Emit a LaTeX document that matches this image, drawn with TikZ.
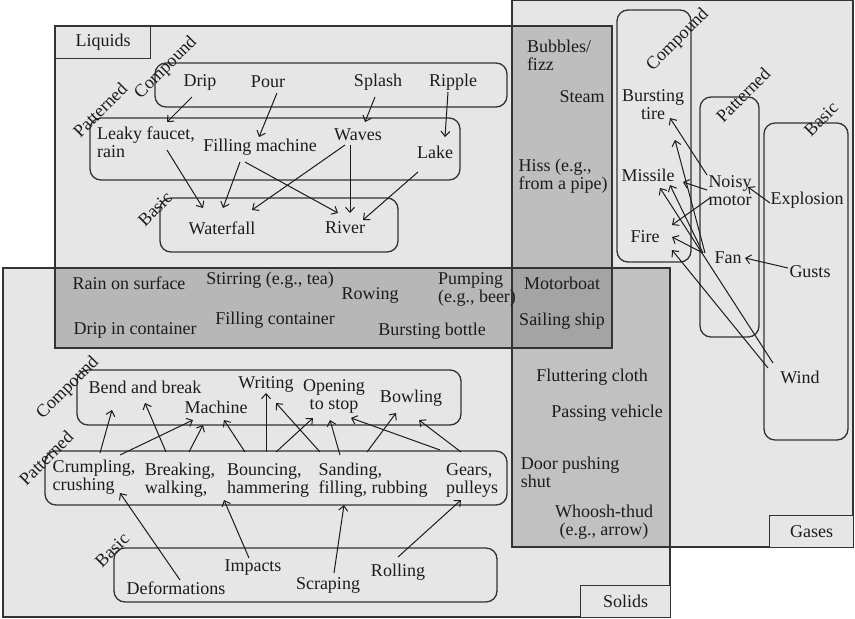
\documentclass[tikz,border=0pt]{standalone}
\usepackage{fontspec}
\setmainfont{Liberation Serif}
\usetikzlibrary{arrows.meta,calc}
\definecolor{lt}{HTML}{E6E6E6}
\definecolor{lg}{HTML}{BEBEBE}
\definecolor{ls}{HTML}{B7B7B7}
\definecolor{sg}{HTML}{C1C1C1}
\definecolor{lsg}{HTML}{A4A4A4}
\definecolor{ink}{HTML}{1C1C1C}
\definecolor{edge}{HTML}{333333}
\begin{document}
\begin{tikzpicture}[x=1pt,y=-1pt,
  txt/.style={inner sep=0pt, font=\fontsize{18}{18}\selectfont, text=ink},
  txtl/.style={txt, align=left},
  txtc/.style={txt, align=center},
  grp/.style={draw=edge, line width=1.3pt, rounded corners=11pt},
  rot/.style={txt, rotate=45},
  arr/.style={-{Straight Barb[length=5pt,width=9pt]}, line width=1pt, draw=ink},
  regionline/.style={draw=edge, line width=1.2pt},
  labbox/.style={txt, draw=edge, line width=1.2pt, fill=lt, anchor=north west}
]
\useasboundingbox (0,0) rectangle (855,619);
\fill[white] (0,0) rectangle (855,619);
% region fills
\fill[lt] (55,26) rectangle (612,348);
\fill[lt] (512,0) rectangle (853,547);
\fill[lt] (3,268) rectangle (670,617);
\fill[lg] (512,26) rectangle (612,348);
\fill[ls] (55,268) rectangle (612,348);
\fill[sg] (512,268) rectangle (670,547);
\fill[lsg] (512,268) rectangle (612,348);
% region borders
\draw[regionline] (55,26) rectangle (612,348);
\draw[regionline] (512,0) rectangle (853,547);
\draw[regionline] (3,268) rectangle (670,617);
% label boxes
\node[labbox, minimum width=95pt, minimum height=32pt] (liqlab) at (55,26) {Liquids};
\node[labbox, minimum width=84pt, minimum height=32pt] (gaslab) at (769,515) {Gases};
\node[labbox, minimum width=90pt, minimum height=32pt] (sollab) at (580,585) {Solids};

% ---------- Liquids ----------
\draw[grp] (155,63) rectangle (507,107);
\draw[grp] (90,118) rectangle (460,180);
\draw[grp] (160,198) rectangle (398,252);
\node[rot] (lcomp) at (166,68) {Compound};
\node[rot] (lpat) at (100,110) {Patterned};
\node[rot] (lbas) at (155,209) {Basic};

\node[txt] (drip) at (200,82) {Drip};
\node[txt] (pour) at (268,82) {Pour};
\node[txt] (splash) at (378,82) {Splash};
\node[txt] (ripple) at (453,82) {Ripple};
\node[txtl] (leaky) at (146,142) {Leaky faucet,\\rain};
\node[txt] (fillm) at (260,147) {Filling machine};
\node[txt] (waves) at (358,135) {Waves};
\node[txt] (lake) at (435,152) {Lake};
\node[txt] (waterfall) at (222,228) {Waterfall};
\node[txt] (river) at (345,228) {River};

\draw[arr] ([shift={(-8,15)}]drip.center) -- ([shift={(21,-20)}]leaky.center);
\draw[arr] ([shift={(9,11)}]pour.center) -- ([shift={(-1,-10)}]fillm.center);
\draw[arr] ([shift={(-3,15)}]splash.center) -- ([shift={(7,-13)}]waves.center);
\draw[arr] ([shift={(-5,10)}]ripple.center) -- ([shift={(10,-15)}]lake.center);
\draw[arr] ([shift={(21,8)}]leaky.center) -- ([shift={(-19,-20)}]waterfall.center);
\draw[arr] ([shift={(-20,15)}]fillm.center) -- ([shift={(1,-20)}]waterfall.center);
\draw[arr] ([shift={(-15,15)}]fillm.center) -- ([shift={(-7,-15)}]river.center);
\draw[arr] ([shift={(-13,10)}]waves.center) -- ([shift={(30,-18)}]waterfall.center);
\draw[arr] ([shift={(-8,10)}]waves.center) -- ([shift={(5,-15)}]river.center);
\draw[arr] ([shift={(-17,20)}]lake.center) -- ([shift={(18,-8)}]river.center);

% ---------- Overlaps ----------
\node[txtl] (bubbles) at (559,55) {Bubbles/\\fizz};
\node[txt] (steam) at (582,97) {Steam};
\node[txtl] (hiss) at (563,176) {Hiss (e.g.,\\from a pipe)};

\node[txt] (rain) at (129,283) {Rain on surface};
\node[txt] (stirring) at (270,280) {Stirring (e.g., tea)};
\node[txt] (rowing) at (370,295) {Rowing};
\node[txtl] (pumping) at (477,289) {Pumping\\(e.g., beer)};
\node[txt] (dripc) at (135,330) {Drip in container};
\node[txt] (fillc) at (275,320) {Filling container};
\node[txt] (bbottle) at (432,331) {Bursting bottle};

\node[txt] (motorboat) at (562,283) {Motorboat};
\node[txt] (sailing) at (562,321) {Sailing ship};

\node[txt] (flutter) at (592,377) {Fluttering cloth};
\node[txt] (passing) at (607,413) {Passing vehicle};
\node[txtl] (door) at (570,472) {Door pushing\\shut};
\node[txtc] (whoosh) at (604,522) {Whoosh-thud\\(e.g., arrow)};

% ---------- Gases ----------
\draw[grp] (617,10) rectangle (691,262);
\draw[grp] (700,97) rectangle (759,337);
\draw[grp] (764,123) rectangle (848,440);
\node[rot] (gcomp) at (678,40) {Compound};
\node[rot] (gpat) at (743,95) {Patterned};
\node[rot] (gbas) at (821,119) {Basic};

\node[txtc] (tire) at (653,105) {Bursting\\tire};
\node[txt] (missile) at (648,175) {Missile};
\node[txt] (fire) at (645,237) {Fire};
\node[txtl] (noisy) at (730,191) {Noisy\\motor};
\node[txt] (explosion) at (807,200) {Explosion};
\node[txt] (fan) at (728,258) {Fan};
\node[txt] (gusts) at (810,272) {Gusts};
\node[txt] (wind) at (800,377) {Wind};

\draw[arr] ([shift={(-23,-16)}]noisy.center) -- ([shift={(17,13)}]tire.center);
\draw[arr] ([shift={(-23,-1)}]noisy.center) -- ([shift={(35,7)}]missile.center);
\draw[arr] ([shift={(-20,7)}]noisy.center) -- ([shift={(27,-12)}]fire.center);
\draw[arr] ([shift={(-23,-5)}]fan.center) -- ([shift={(22,35)}]tire.center);
\draw[arr] ([shift={(-25,-5)}]fan.center) -- ([shift={(22,10)}]missile.center);
\draw[arr] ([shift={(-25,-5)}]fan.center) -- ([shift={(27,0)}]fire.center);
\draw[arr] ([shift={(-27,-14)}]wind.center) -- ([shift={(12,13)}]missile.center);
\draw[arr] ([shift={(-32,-9)}]wind.center) -- ([shift={(27,13)}]fire.center);
\draw[arr] ([shift={(-37,3)}]explosion.center) -- ([shift={(18,-4)}]noisy.center);
\draw[arr] ([shift={(-22,-4)}]gusts.center) -- ([shift={(17,0)}]fan.center);

% ---------- Solids ----------
\draw[grp] (77,370) rectangle (461,425);
\draw[grp] (45,451) rectangle (507,505);
\draw[grp] (114,548) rectangle (497,602);
\node[rot] (scomp) at (68,388) {Compound};
\node[rot] (spat) at (46,458) {Patterned};
\node[rot] (sbas) at (112,550) {Basic};

\node[txt] (bend) at (145,387) {Bend and break};
\node[txt] (machine) at (216,407) {Machine};
\node[txt] (writing) at (266,384) {Writing};
\node[txtc] (opening) at (334,396) {Opening\\to stop};
\node[txt] (bowling) at (411,398) {Bowling};
\node[txtl] (crumpling) at (94,477) {Crumpling,\\crushing};
\node[txtl] (breaking) at (180,480) {Breaking,\\walking,};
\node[txtl] (bouncing) at (268,480) {Bouncing,\\hammering};
\node[txtl] (sanding) at (373,480) {Sanding,\\filling, rubbing};
\node[txtl] (gears) at (472,480) {Gears,\\pulleys};
\node[txt] (deform) at (176,588) {Deformations};
\node[txt] (impacts) at (253,568) {Impacts};
\node[txt] (scraping) at (328,585) {Scraping};
\node[txt] (rolling) at (398,572) {Rolling};

\draw[arr] ([shift={(6,-24)}]crumpling.center) -- ([shift={(-33,23)}]bend.center);
\draw[arr] ([shift={(26,-22)}]crumpling.center) -- ([shift={(-23,13)}]machine.center);
\draw[arr] ([shift={(-14,-28)}]breaking.center) -- ([shift={(0,16)}]bend.center);
\draw[arr] ([shift={(9,-28)}]breaking.center) -- ([shift={(-13,18)}]machine.center);
\draw[arr] ([shift={(-23,-28)}]bouncing.center) -- ([shift={(8,13)}]machine.center);
\draw[arr] ([shift={(-2,-28)}]bouncing.center) -- ([shift={(0,9)}]writing.center);
\draw[arr] ([shift={(8,-28)}]bouncing.center) -- ([shift={(-21,22)}]opening.center);
\draw[arr] ([shift={(-53,-28)}]sanding.center) -- ([shift={(10,19)}]writing.center);
\draw[arr] ([shift={(-33,-25)}]sanding.center) -- ([shift={(-4,24)}]opening.center);
\draw[arr] ([shift={(-6,-28)}]sanding.center) -- ([shift={(-15,15)}]bowling.center);
\draw[arr] ([shift={(-32,-30)}]gears.center) -- ([shift={(17,22)}]opening.center);
\draw[arr] ([shift={(-11,-28)}]gears.center) -- ([shift={(8,22)}]bowling.center);
\draw[arr] ([shift={(4,-8)}]deform.center) -- ([shift={(26,16)}]crumpling.center);
\draw[arr] ([shift={(-4,-10)}]impacts.center) -- ([shift={(-44,20)}]bouncing.center);
\draw[arr] ([shift={(6,-12)}]scraping.center) -- ([shift={(-29,25)}]sanding.center);
\draw[arr] ([shift={(0,-15)}]rolling.center) -- ([shift={(-11,20)}]gears.center);
\end{tikzpicture}
\end{document}
